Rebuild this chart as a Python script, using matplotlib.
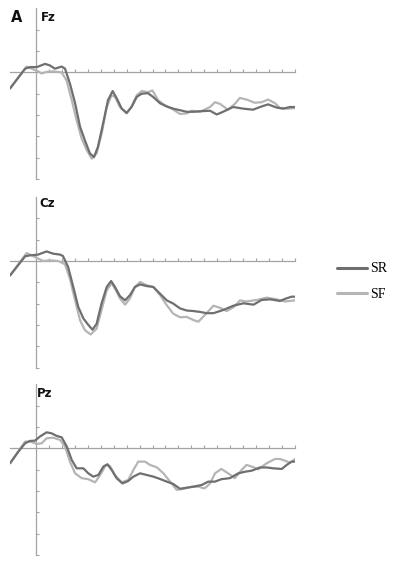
import matplotlib
matplotlib.use("Agg")
import matplotlib.pyplot as plt

# ---------------- data (time in ms, amplitude in µV) ----------------
t_fz_sr = [-100, -42, -23, 3, 35, 54, 73, 99, 112, 131, 151, 170, 189, 208, 224, 239, 259, 278, 296, 312,
           331, 350, 369, 389, 408, 432, 452, 479, 505, 529, 556, 582, 606, 633, 672, 698, 722, 761, 799,
           838, 865, 896, 929, 954, 981, 1000]
v_fz_sr = [-1.5, 0.35, 0.5, 0.5, 0.8, 0.65, 0.35, 0.55, 0.35, -1.05, -2.9, -5.1, -6.4, -7.6, -7.95, -7.0, -4.8,
           -2.6, -1.75, -2.45, -3.4, -3.8, -3.25, -2.3, -2.0, -1.95, -2.3, -2.9, -3.2, -3.4, -3.55, -3.7, -3.7,
           -3.65, -3.6, -3.95, -3.7, -3.25, -3.4, -3.5, -3.25, -3.0, -3.3, -3.4, -3.25, -3.25]

t_fz_sf = [-100, -36, -17, 8, 22, 41, 66, 99, 118, 138, 157, 176, 196, 215, 234, 254, 273, 292, 305, 324,
           350, 369, 389, 408, 432, 450, 471, 498, 524, 556, 582, 601, 633, 672, 691, 710, 741, 768, 787,
           813, 845, 871, 896, 923, 942, 968, 1000]
v_fz_sf = [-1.5, 0.55, 0.35, 0.1, -0.1, 0.05, 0.1, 0.0, -0.75, -2.6, -4.5, -6.2, -7.3, -8.1, -7.6, -5.7, -3.25,
           -2.15, -2.3, -3.25, -3.85, -3.2, -2.15, -1.75, -1.85, -1.7, -2.6, -3.1, -3.4, -3.9, -3.85, -3.6,
           -3.7, -3.25, -2.8, -2.95, -3.5, -2.95, -2.4, -2.55, -2.85, -2.8, -2.55, -2.9, -3.35, -3.4, -3.35]

t_cz_sr = [-100, -42, -23, 8, 41, 66, 93, 104, 124, 144, 163, 183, 202, 218, 234, 253, 273, 290, 305, 324,
           344, 363, 382, 402, 427, 453, 479, 505, 530, 556, 582, 608, 633, 659, 685, 723, 762, 801, 840,
           871, 904, 942, 968, 987, 1000]
v_cz_sr = [-1.35, 0.44, 0.53, 0.6, 0.9, 0.69, 0.6, 0.47, -0.56, -2.44, -4.3, -5.4, -6.0, -6.45, -5.9, -4.0,
           -2.44, -1.88, -2.44, -3.3, -3.7, -3.2, -2.44, -2.2, -2.35, -2.44, -3.07, -3.7, -4.0, -4.45, -4.65,
           -4.7, -4.78, -4.9, -4.9, -4.6, -4.2, -3.97, -4.1, -3.66, -3.6, -3.75, -3.5, -3.35, -3.35]

t_cz_sf = [-100, -36, -17, 9, 28, 54, 86, 112, 131, 151, 170, 189, 211, 234, 253, 273, 292, 305, 324, 344,
           363, 382, 402, 427, 453, 479, 505, 530, 556, 582, 608, 627, 652, 685, 711, 736, 762, 788, 813,
           852, 891, 929, 961, 1000]
v_cz_sf = [-1.35, 0.75, 0.53, 0.22, 0.0, 0.06, 0.0, -0.31, -1.66, -3.7, -5.57, -6.5, -6.9, -6.35, -4.6, -2.75,
           -2.1, -2.6, -3.5, -4.1, -3.5, -2.44, -1.97, -2.28, -2.44, -3.2, -4.16, -4.95, -5.28, -5.25, -5.55,
           -5.7, -5.07, -4.2, -4.4, -4.7, -4.35, -3.7, -3.8, -3.66, -3.44, -3.6, -3.8, -3.7]

t_pz_sr = [-100, -68, -42, -23, -4, 15, 41, 61, 80, 99, 119, 138, 157, 183, 202, 221, 241, 260, 276, 292,
           311, 334, 356, 376, 402, 427, 453, 479, 505, 530, 556, 582, 608, 640, 665, 691, 716, 749, 781,
           807, 833, 865, 891, 916, 949, 968, 987, 1004]
v_pz_sr = [-1.4, -0.31, 0.47, 0.69, 0.72, 1.1, 1.5, 1.4, 1.16, 1.03, 0.16, -1.1, -1.88, -1.88, -2.35, -2.66,
           -2.5, -1.72, -1.5, -2.03, -2.8, -3.3, -3.07, -2.66, -2.35, -2.5, -2.66, -2.88, -3.13, -3.35, -3.8,
           -3.7, -3.6, -3.44, -3.13, -3.13, -2.9, -2.8, -2.35, -2.2, -2.1, -1.8, -1.8, -1.88, -1.94, -1.56,
           -1.25, -1.25]

t_pz_sf = [-100, -42, -23, 3, 22, 41, 67, 93, 112, 131, 151, 176, 202, 228, 248, 270, 285, 305, 330, 356,
           376, 395, 421, 440, 466, 492, 518, 543, 569, 601, 627, 646, 652, 672, 691, 716, 742, 768, 794,
           813, 833, 858, 891, 923, 942, 961, 981, 1004]
v_pz_sf = [-1.4, 0.63, 0.63, 0.41, 0.47, 0.94, 1.0, 0.78, 0.16, -1.25, -2.35, -2.8, -2.9, -3.2, -2.5, -1.56,
           -1.66, -2.5, -3.2, -2.97, -2.03, -1.25, -1.25, -1.56, -1.78, -2.35, -3.13, -3.9, -3.8, -3.62,
           -3.6, -3.75, -3.75, -3.3, -2.35, -1.94, -2.35, -2.8, -2.03, -1.56, -1.72, -1.97, -1.4, -1.0,
           -1.0, -1.16, -1.35, -0.94]

panels = ["Fz", "Cz", "Pz"]
series_names = ["SR", "SF"]
data = {
    "Fz": ((t_fz_sr, v_fz_sr), (t_fz_sf, v_fz_sf)),
    "Cz": ((t_cz_sr, v_cz_sr), (t_cz_sf, v_cz_sf)),
    "Pz": ((t_pz_sr, v_pz_sr), (t_pz_sf, v_pz_sf)),
}
x_ticks = list(range(50, 1001, 50))
y_ticks = [-10, -8, -6, -4, -2, 2, 4]

# ---------------- styling ----------------
W, H = 397, 564
fig = plt.figure(figsize=(W / 100, H / 100), dpi=100)
col_sr = "#6f6f6f"
col_sf = "#b5b5b5"
axis_col = "#a3a3a3"

# pixel geometry of each panel: (top px, bottom px), label position
panel_px = {"Fz": (8.5, 178.9), "Cz": (197.1, 367.5), "Pz": (384.4, 554.8)}
label_px = {"Fz": (41, 11), "Cz": (39, 197), "Pz": (37, 387)}
left_px, right_px = 10.1, 295.0

handles = None
for name in panels:
    top, bot = panel_px[name]
    ax = fig.add_axes([left_px / W, 1 - bot / H, (right_px - left_px) / W, (bot - top) / H])
    (ts, vs), (tf, vf) = data[name]
    hf, = ax.plot(tf, vf, color=col_sf, lw=1.6, solid_joinstyle="round", solid_capstyle="round", zorder=3)
    hr, = ax.plot(ts, vs, color=col_sr, lw=1.6, solid_joinstyle="round", solid_capstyle="round", zorder=4)
    handles = (hr, hf)
    ax.set_xlim(-100, 1000)
    ax.set_ylim(-10, 6)
    for s in ["top", "right"]:
        ax.spines[s].set_visible(False)
    ax.spines["left"].set_position(("data", 0))
    ax.spines["bottom"].set_position(("data", 0))
    for s in ["left", "bottom"]:
        ax.spines[s].set_color(axis_col)
        ax.spines[s].set_linewidth(0.9)
    ax.set_xticks(x_ticks)
    ax.set_yticks(y_ticks)
    ax.set_xticklabels([])
    ax.set_yticklabels([])
    ax.tick_params(axis="x", direction="in", length=2.5, width=0.8, color=axis_col)
    ax.tick_params(axis="y", direction="in", length=2.0, width=0.8, color=axis_col)
    ax.patch.set_alpha(0)
    lx, ly = label_px[name]
    fig.text(lx / W, 1 - ly / H, name, fontsize=8.5, fontweight="bold",
             va="top", ha="left", color="#111111")

fig.text(11 / W, 1 - 10 / H, "A", fontsize=10.5, fontweight="bold", va="top", ha="left", color="#111111")

leg = fig.legend(handles, series_names, loc="upper left", bbox_to_anchor=(324 / W, 1 - 250 / H),
                 frameon=False, handlelength=2.2, handletextpad=0.25, labelspacing=0.9,
                 prop={"family": "Liberation Serif", "size": 10})
for ln in leg.get_lines():
    ln.set_linewidth(2.2)

fig.savefig("out.png", dpi=100)
